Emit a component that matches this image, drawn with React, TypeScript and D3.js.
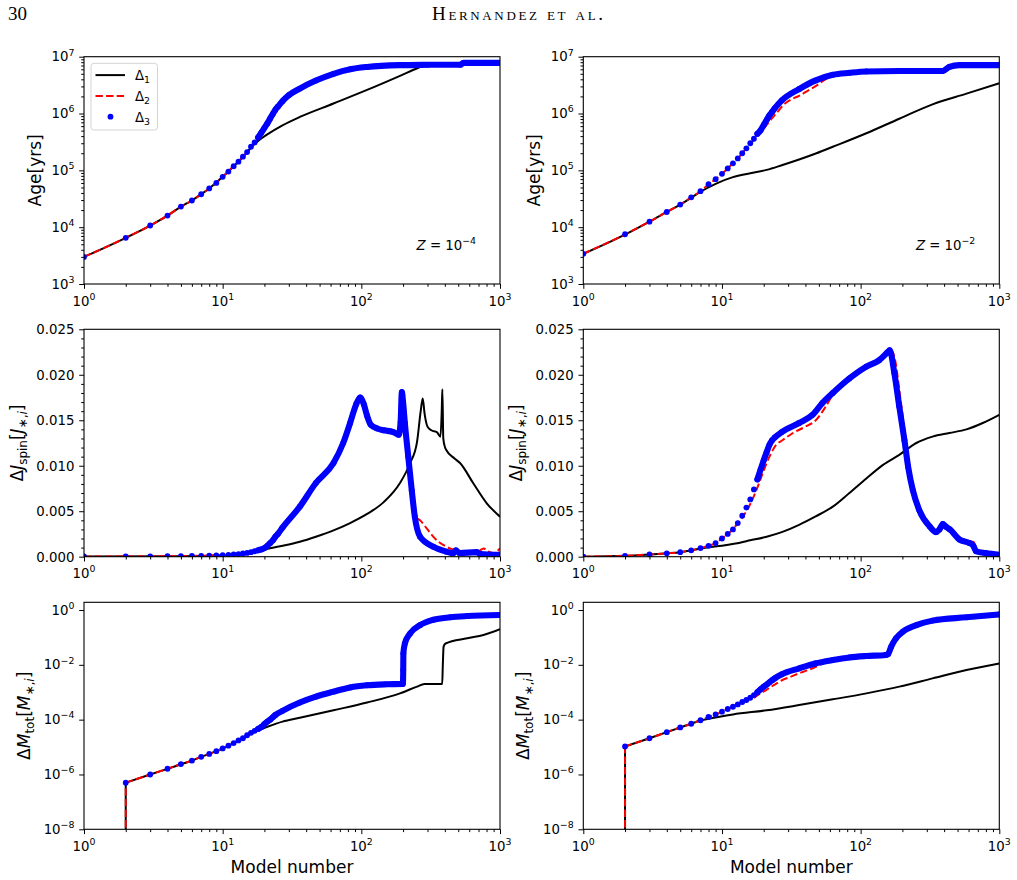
import React, { useRef, useEffect } from "react";
import * as d3 from "d3";

type Pt = [number, number];

// ---- ticks ----
const modelTicks = [1, 10, 100, 1000];
const ageTicks = [1e3, 1e4, 1e5, 1e6, 1e7];
const spinTicks = [0, 0.005, 0.01, 0.015, 0.02, 0.025];
const massTicks = [1e-8, 1e-6, 1e-4, 1e-2, 1];
const seriesLabels = ["1", "2", "3"];
const zLabels = ["\u22124", "\u22122"];

// ---- Age [yrs], Z = 1e-4 ----
const ageLowZDelta1: Pt[] = [
  [1, 3.0e3], [2, 6.5e3], [3, 1.07e4], [4, 1.6e4], [5, 2.3e4], [6, 2.95e4], [7, 3.8e4], [8, 4.8e4],
  [10, 7.7e4], [12, 1.18e5], [14, 1.72e5], [16, 2.5e5], [18, 3.3e5], [21, 4.3e5], [27, 6.2e5],
  [36, 8.7e5], [63, 1.5e6], [110, 2.6e6], [190, 4.6e6], [258, 6.4e6], [290, 7.1e6], [520, 7.2e6],
  [545, 7.7e6], [1000, 7.7e6],
];
const ageLowZDelta3: Pt[] = [
  [1, 3.0e3], [2, 6.5e3], [3, 1.07e4], [4, 1.6e4], [5, 2.3e4], [6, 2.95e4], [7, 3.8e4], [8, 4.8e4],
  [9, 6.0e4], [10, 7.7e4], [11, 9.5e4], [12, 1.18e5], [13, 1.42e5], [14, 1.74e5], [15, 2.1e5],
  [16, 2.6e5], [17, 3.1e5], [18, 3.8e5], [19, 4.6e5], [20, 5.6e5], [21, 6.7e5], [22, 8.2e5],
  [23, 9.8e5], [24, 1.17e6], [25, 1.32e6], [27, 1.65e6], [30, 2.1e6], [36, 2.75e6], [47, 3.8e6],
  [63, 5.0e6], [83, 6.0e6], [110, 6.6e6], [190, 7.1e6], [300, 7.2e6], [520, 7.25e6], [545, 7.8e6],
  [1000, 7.8e6],
];
const ageLowZDelta2: Pt[] = ageLowZDelta3;

// ---- Age [yrs], Z = 1e-2 ----
const ageHighZDelta1: Pt[] = [
  [1, 3.4e3], [2, 7.4e3], [3, 1.25e4], [4, 1.85e4], [5, 2.5e4], [6, 3.3e4], [7, 4.2e4], [9, 5.8e4],
  [12, 7.6e4], [16, 8.9e4], [21, 1.02e5], [27, 1.23e5], [36, 1.55e5], [48, 2.0e5], [63, 2.6e5],
  [110, 4.5e5], [190, 8.1e5], [330, 1.45e6], [580, 2.24e6], [1000, 3.4e6],
];
const ageHighZDelta3: Pt[] = [
  [1, 3.4e3], [2, 7.5e3], [3, 1.25e4], [4, 1.85e4], [5, 2.5e4], [6, 3.35e4], [7, 4.3e4], [8, 5.7e4],
  [9, 7.0e4], [10, 8.7e4], [11, 1.08e5], [12, 1.33e5], [13, 1.62e5], [14, 2.0e5], [15, 2.44e5],
  [16, 3.0e5], [17, 3.6e5], [18, 4.4e5], [19, 5.1e5], [20, 6.3e5], [21, 7.7e5], [22, 9.3e5],
  [23, 1.07e6], [24, 1.23e6], [27, 1.7e6], [36, 2.7e6], [47, 3.8e6], [63, 4.8e6], [83, 5.2e6],
  [110, 5.5e6], [190, 5.6e6], [390, 5.6e6], [436, 6.6e6], [515, 7.1e6], [1000, 7.1e6],
];
const ageHighZDelta2: Pt[] = [
  ...ageHighZDelta3.filter((d) => d[0] <= 15),
  [16, 2.9e5], [18, 4.0e5], [20, 5.4e5], [22, 7.3e5], [25, 1.05e6], [28, 1.45e6], [32, 1.8e6],
  [36, 2.05e6], [42, 2.55e6], [48, 3.1e6], [55, 3.9e6], [60, 4.4e6],
  ...ageHighZDelta3.filter((d) => d[0] >= 63),
];

// ---- ΔJ_spin, Z = 1e-4 ----
const spinLowZDelta1: Pt[] = [
  [1, 0.00002], [5, 0.00006], [10, 0.00017], [15, 0.00042], [20, 0.0008], [27, 0.0012],
  [36, 0.00165], [47, 0.0022], [63, 0.0029], [83, 0.0037], [110, 0.0047], [145, 0.006],
  [190, 0.0081], [225, 0.0103], [252, 0.0126], [268, 0.016], [277, 0.0174], [286, 0.0157],
  [300, 0.0143], [320, 0.0139], [350, 0.0137], [372, 0.0132], [380, 0.016], [384, 0.0184],
  [390, 0.013], [400, 0.0121], [411, 0.0117], [470, 0.0108], [515, 0.0103], [640, 0.0081],
  [800, 0.0059], [1000, 0.0044],
];
const spinLowZDelta3: Pt[] = [
  [1, 0.00002], [2, 0.00003], [3, 0.00004], [4, 0.00005], [5, 0.00006], [6, 0.00008], [7, 0.0001],
  [8, 0.00012], [9, 0.00014], [10, 0.00017], [11, 0.0002], [12, 0.00024], [13, 0.00029],
  [14, 0.00035], [15, 0.00042], [16, 0.0005], [17, 0.0006], [18, 0.0007], [19, 0.0008],
  [20, 0.00095], [21, 0.0012], [22, 0.0015], [23, 0.0018], [24, 0.0022], [25, 0.0025],
  [27, 0.0032], [36, 0.0055], [47, 0.0081], [63, 0.0103], [74, 0.0125], [83, 0.0147],
  [92, 0.0168], [98, 0.0175], [104, 0.0168], [110, 0.0155], [117, 0.0145], [130, 0.0141],
  [145, 0.0139], [170, 0.0137], [186, 0.0134], [192, 0.0148], [196, 0.0181], [200, 0.017],
  [206, 0.0147], [218, 0.011], [231, 0.0073], [243, 0.0044], [265, 0.0022], [330, 0.0011],
  [410, 0.00055], [460, 0.00037], [480, 0.0007], [510, 0.0004], [680, 0.0005], [720, 0.0003],
  [1000, 0.0002],
];
const spinLowZDelta2: Pt[] = [
  ...spinLowZDelta3.filter((d) => d[0] <= 243),
  [265, 0.004], [300, 0.003], [330, 0.0022], [410, 0.0011], [480, 0.0007], [577, 0.00055],
  [700, 0.0006], [760, 0.0009], [820, 0.0006], [900, 0.0004], [1000, 0.0009],
];

// ---- ΔJ_spin, Z = 1e-2 ----
const spinHighZDelta1: Pt[] = [
  [1, 0], [2, 0.0001], [3, 0.00025], [4, 0.00037], [5, 0.0005], [6, 0.0007], [7, 0.0009],
  [8, 0.00103], [10, 0.0012], [12.5, 0.00145], [16, 0.0018], [21, 0.0022], [27, 0.0027],
  [36, 0.0035], [47, 0.0044], [63, 0.0055], [83, 0.007], [110, 0.0086], [145, 0.0101],
  [190, 0.0112], [252, 0.0125], [330, 0.0132], [436, 0.0136], [580, 0.014], [760, 0.0147],
  [1000, 0.0156],
];
const spinHighZDelta3: Pt[] = [
  [1, 0], [2, 0.0001], [3, 0.00025], [4, 0.00037], [5, 0.0005], [6, 0.0007], [7, 0.00095],
  [8, 0.0012], [9, 0.0015], [10, 0.002], [11, 0.0025], [12, 0.003], [13, 0.0037], [14, 0.0045],
  [15, 0.0054], [16, 0.0063], [17, 0.0074], [18, 0.0085], [19, 0.0096], [20, 0.0106],
  [21, 0.0115], [22, 0.0123], [23, 0.0128], [24, 0.0131], [27, 0.0137], [36, 0.0147],
  [45, 0.0156], [53, 0.0169], [63, 0.018], [83, 0.0196], [110, 0.0209], [136, 0.0216],
  [157, 0.0225], [162, 0.0227], [175, 0.0202], [190, 0.0165], [207, 0.0128], [220, 0.0099],
  [238, 0.0073], [265, 0.0051], [316, 0.0033], [350, 0.0027], [370, 0.003], [392, 0.0036],
  [412, 0.0033], [440, 0.003], [515, 0.0019], [610, 0.0015], [650, 0.0012], [680, 0.0006],
  [800, 0.0004], [1000, 0.0002],
];
const spinHighZDelta2: Pt[] = [
  ...spinHighZDelta3.filter((d) => d[0] <= 13),
  [14, 0.0043], [15, 0.005], [16, 0.0058], [17.7, 0.0073], [19.7, 0.0092], [22, 0.011],
  [24.6, 0.0123], [27.3, 0.0128], [32.5, 0.0136], [40, 0.0143], [47.5, 0.015], [56, 0.0165],
  [66, 0.0183], [83, 0.0197], [110, 0.0208], [136, 0.0216], [157, 0.0224], [166, 0.0227],
  [178, 0.0215], [192, 0.0178], [208, 0.0137], [221, 0.0104], [240, 0.0076], [265, 0.0053],
  [316, 0.0034], [350, 0.0028], [392, 0.0037], [436, 0.0031], [515, 0.0021], [610, 0.0017],
  [655, 0.0016], [685, 0.0007], [1000, 0.0003],
];

// ---- ΔM_tot, Z = 1e-4 ----
const massLowZDelta1: Pt[] = [
  [1, 0], [2, 5e-7], [3, 1.0e-6], [4, 1.6e-6], [5, 2.35e-6], [6, 3.2e-6], [7, 4.4e-6], [8, 5.6e-6],
  [9, 7.1e-6], [10, 8.9e-6], [12, 1.4e-5], [15, 2.65e-5], [17, 3.6e-5], [21, 5.5e-5],
  [27, 8.5e-5], [36, 1.17e-4], [63, 2.2e-4], [110, 4.2e-4], [190, 9.1e-4], [252, 1.6e-3],
  [285, 2.0e-3], [383, 2.0e-3], [387, 1.0e-2], [392, 4.6e-2], [405, 6.0e-2], [580, 9.3e-2],
  [760, 1.23e-1], [1000, 2.0e-1],
];
const massLowZDelta3: Pt[] = [
  [1, 0], [2, 5e-7], [3, 1.0e-6], [4, 1.62e-6], [5, 2.4e-6], [6, 3.2e-6], [7, 4.4e-6], [8, 5.6e-6],
  [9, 7.1e-6], [10, 8.9e-6], [11, 1.12e-5], [12, 1.4e-5], [13, 1.74e-5], [14, 2.1e-5],
  [15, 2.7e-5], [16, 3.3e-5], [17, 3.9e-5], [18, 4.6e-5], [19, 5.4e-5], [20, 6.9e-5],
  [21, 8.5e-5], [22, 1.0e-4], [23, 1.23e-4], [24, 1.48e-4], [27, 2.1e-4], [36, 4.2e-4],
  [47, 6.9e-4], [63, 1.05e-3], [83, 1.5e-3], [110, 1.8e-3], [150, 1.95e-3], [199, 2.0e-3],
  [200, 2.8e-3], [200.5, 6.5e-3], [201, 2.6e-2], [206, 6.0e-2], [225, 0.14], [265, 0.28],
  [330, 0.44], [436, 0.54], [580, 0.6], [1000, 0.66],
];
const massLowZDelta2: Pt[] = massLowZDelta3;

// ---- ΔM_tot, Z = 1e-2 ----
const massHighZDelta1: Pt[] = [
  [1, 0], [2, 1.05e-5], [3, 2.1e-5], [4, 3.5e-5], [5, 5.2e-5], [6, 7.1e-5], [7, 9.3e-5],
  [9, 1.2e-4], [12, 1.55e-4], [21, 2.2e-4], [36, 3.4e-4], [63, 5.5e-4], [110, 9.1e-4],
  [190, 1.6e-3], [330, 3.2e-3], [580, 6.5e-3], [1000, 1.12e-2],
];
const massHighZDelta3: Pt[] = [
  [1, 0], [2, 1.05e-5], [3, 2.1e-5], [4, 3.5e-5], [5, 5.2e-5], [6, 7.1e-5], [7, 9.5e-5],
  [8, 1.26e-4], [9, 1.55e-4], [10, 1.95e-4], [11, 2.45e-4], [12, 2.95e-4], [13, 3.6e-4],
  [14, 4.4e-4], [15, 5.2e-4], [16, 6.3e-4], [17, 7.9e-4], [18, 1.0e-3], [19, 1.29e-3],
  [20, 1.6e-3], [21, 1.9e-3], [22, 2.3e-3], [23, 2.75e-3], [24, 3.2e-3], [27, 4.5e-3],
  [36, 7.4e-3], [47, 1.12e-2], [63, 1.5e-2], [83, 1.86e-2], [110, 2.1e-2], [152, 2.3e-2],
  [158, 2.5e-2], [166, 4.6e-2], [180, 9.3e-2], [201, 0.16], [252, 0.28], [330, 0.41],
  [580, 0.54], [1000, 0.69],
];
const massHighZDelta2: Pt[] = [
  ...massHighZDelta3.filter((d) => d[0] <= 15),
  [16.7, 6.0e-4], [18.5, 8.5e-4], [20.8, 1.2e-3], [24, 1.9e-3], [27.3, 2.8e-3], [31, 3.6e-3],
  [36, 4.9e-3], [42, 6.5e-3], [47.5, 8.5e-3], [53, 1.1e-2], [59, 1.4e-2],
  ...massHighZDelta3.filter((d) => d[0] >= 63),
];

// ---- layout ----
const W = 1017;
const H = 880;
const FONT = "DejaVu Sans, sans-serif";
const TICK_FS = 13.3;
const SUP_FS = 9.4;
const LABEL_FS = 17;
const PLOT_W = 416;
const colLeft = [84, 583.3];
const rowSpan: [number, number][] = [[56.7, 284], [329.3, 556.7], [602.3, 829.3]];
const DOT_R = 2.9;

type Kind = "age" | "spin" | "mass";

interface Piece { t: string; it?: boolean; sub?: boolean; sup?: boolean }

const panels = [
  { row: 0, col: 0, kind: "age" as Kind, d1: ageLowZDelta1, d2: ageLowZDelta2, d3: ageLowZDelta3, z: zLabels[0], legend: true },
  { row: 0, col: 1, kind: "age" as Kind, d1: ageHighZDelta1, d2: ageHighZDelta2, d3: ageHighZDelta3, z: zLabels[1], legend: false },
  { row: 1, col: 0, kind: "spin" as Kind, d1: spinLowZDelta1, d2: spinLowZDelta2, d3: spinLowZDelta3, z: null, legend: false },
  { row: 1, col: 1, kind: "spin" as Kind, d1: spinHighZDelta1, d2: spinHighZDelta2, d3: spinHighZDelta3, z: null, legend: false },
  { row: 2, col: 0, kind: "mass" as Kind, d1: massLowZDelta1, d2: massLowZDelta2, d3: massLowZDelta3, z: null, legend: false },
  { row: 2, col: 1, kind: "mass" as Kind, d1: massHighZDelta1, d2: massHighZDelta2, d3: massHighZDelta3, z: null, legend: false },
];

const yLabels: Record<Kind, Piece[]> = {
  age: [{ t: "Age[yrs]" }],
  spin: [
    { t: "\u0394" }, { t: "J", it: true }, { t: "spin", sub: true }, { t: "[" }, { t: "J", it: true },
    { t: "\u2217,", sub: true }, { t: "i", sub: true, it: true }, { t: "]" },
  ],
  mass: [
    { t: "\u0394" }, { t: "M", it: true }, { t: "tot", sub: true }, { t: "[" }, { t: "M", it: true },
    { t: "\u2217,", sub: true }, { t: "i", sub: true, it: true }, { t: "]" },
  ],
};
// distance from the plot's left edge to the rotated label baseline
const yLabelGap: Record<Kind, number> = { age: 43.5, spin: 61.5, mass: 54.5 };

function appendPieces(text: any, pieces: Piece[], base: number, small: number, subShift: number, supShift: number) {
  let shift = 0;
  pieces.forEach((p) => {
    const target = p.sub ? subShift : p.sup ? -supShift : 0;
    const ts = text.append("tspan").text(p.t).attr("font-size", p.sub || p.sup ? small : base);
    if (target !== shift) ts.attr("dy", target - shift);
    if (p.it) ts.attr("font-style", "italic");
    shift = target;
  });
}

function powerPieces(v: number): Piece[] {
  const e = Math.round(Math.log10(v));
  return [{ t: "10" }, { t: e < 0 ? "\u2212" + Math.abs(e) : String(e), sup: true }];
}

function drawPanel(root: any, p: (typeof panels)[number], idx: number) {
  const left = colLeft[p.col];
  const right = left + PLOT_W;
  const [top, bottom] = rowSpan[p.row];
  const logY = p.kind !== "spin";

  const x = d3.scaleLog().domain([1, 1000]).range([left, right]);
  const y: any =
    p.kind === "age"
      ? d3.scaleLog().domain([1e3, 1e7]).range([bottom, top])
      : p.kind === "spin"
      ? d3.scaleLinear().domain([0, 0.025]).range([bottom, top])
      : d3.scaleLog().domain([1e-8, 1.91]).range([bottom, top]);

  const g = root.append("g");
  const clipId = `plot-clip-${idx}`;
  g.append("clipPath").attr("id", clipId).append("rect")
    .attr("x", left).attr("y", top).attr("width", right - left).attr("height", bottom - top);

  const line = d3.line<Pt>().x((d) => x(d[0])).y((d) => y(d[1])).curve(d3.curveMonotoneX);
  // on a log axis a zero value drops straight down out of the frame
  const pathOf = (pts: Pt[]) => {
    if (logY && pts[0][1] <= 0) {
      const nx = x(pts[1][0]);
      return `M${nx},${bottom + 30}L${nx},${y(pts[1][1])}` + (line(pts.slice(1)) ?? "");
    }
    return line(pts) ?? "";
  };

  const plot = g.append("g").attr("clip-path", `url(#${clipId})`);
  plot.append("path").attr("d", pathOf(p.d1))
    .attr("fill", "none").attr("stroke", "#000").attr("stroke-width", 2);
  plot.append("path").attr("d", pathOf(p.d2))
    .attr("fill", "none").attr("stroke", "#ff0000").attr("stroke-width", 2)
    .attr("stroke-dasharray", "7.4,3.2");

  // dense models merge into a solid band of markers
  const dense = p.d3.filter((d) => d[0] >= 18);
  plot.append("path").attr("d", line(dense))
    .attr("fill", "none").attr("stroke", "#0000ff").attr("stroke-width", DOT_R * 2.1)
    .attr("stroke-linecap", "round").attr("stroke-linejoin", "round");
  plot.selectAll("circle.dot")
    .data(p.d3.filter((d) => !logY || d[1] > 0))
    .join("circle")
    .attr("class", "dot")
    .attr("cx", (d: Pt) => x(d[0]))
    .attr("cy", (d: Pt) => y(d[1]))
    .attr("r", DOT_R)
    .attr("fill", "#0000ff");

  // frame
  g.append("rect").attr("x", left).attr("y", top).attr("width", right - left).attr("height", bottom - top)
    .attr("fill", "none").attr("stroke", "#000").attr("stroke-width", 1.1);

  // x axis
  const xMinor = d3.range(0, 3).flatMap((e) => d3.range(2, 10).map((k) => k * 10 ** e));
  const xMajorAxis = g.append("g").attr("transform", `translate(0,${bottom})`)
    .call(d3.axisBottom(x).tickValues(modelTicks).tickSize(4.8).tickSizeOuter(0).tickFormat(() => ""));
  xMajorAxis.select(".domain").remove();
  const xMinorAxis = g.append("g").attr("transform", `translate(0,${bottom})`)
    .call(d3.axisBottom(x).tickValues(xMinor).tickSize(2.8).tickSizeOuter(0).tickFormat(() => ""));
  xMinorAxis.select(".domain").remove();

  modelTicks.forEach((t) => {
    const txt = g.append("text").attr("x", x(t)).attr("y", bottom + 21.5)
      .attr("text-anchor", "middle").attr("font-family", FONT).attr("fill", "#000");
    appendPieces(txt, powerPieces(t), TICK_FS, SUP_FS, 0, 5.8);
  });

  // y axis
  const yTicks = p.kind === "age" ? ageTicks : p.kind === "spin" ? spinTicks : massTicks;
  const yMinor =
    p.kind === "age"
      ? d3.range(3, 7).flatMap((e) => d3.range(2, 10).map((k) => k * 10 ** e))
      : p.kind === "spin"
      ? d3.range(1, 25).filter((k) => k % 5 !== 0).map((k) => k * 0.001)
      : [];
  const yMajorAxis = g.append("g").attr("transform", `translate(${left},0)`)
    .call(d3.axisLeft(y).tickValues(yTicks).tickSize(4.8).tickSizeOuter(0).tickFormat(() => ""));
  yMajorAxis.select(".domain").remove();
  if (yMinor.length) {
    const yMinorAxis = g.append("g").attr("transform", `translate(${left},0)`)
      .call(d3.axisLeft(y).tickValues(yMinor).tickSize(2.8).tickSizeOuter(0).tickFormat(() => ""));
    yMinorAxis.select(".domain").remove();
  }

  const fmt = d3.format(".3f");
  yTicks.forEach((t) => {
    const txt = g.append("text").attr("x", left - 9.6).attr("y", y(t) + (logY ? 4.6 : 4.8))
      .attr("text-anchor", "end").attr("font-family", FONT).attr("fill", "#000");
    if (logY) appendPieces(txt, powerPieces(t), TICK_FS, SUP_FS, 0, 5.8);
    else txt.attr("font-size", TICK_FS).text(fmt(t));
  });

  // axis titles
  const yl = g.append("text")
    .attr("transform", `translate(${left - yLabelGap[p.kind]},${(top + bottom) / 2}) rotate(-90)`)
    .attr("text-anchor", "middle").attr("font-family", FONT).attr("fill", "#000");
  appendPieces(yl, yLabels[p.kind], LABEL_FS, 12, 4, 0);

  if (p.row === 2) {
    g.append("text").attr("x", (left + right) / 2).attr("y", 873)
      .attr("text-anchor", "middle").attr("font-family", FONT).attr("font-size", LABEL_FS)
      .attr("fill", "#000").text("Model number");
  }

  // metallicity tag
  if (p.z) {
    const zt = g.append("text").attr("x", right - 83.4).attr("y", bottom - 34)
      .attr("font-family", FONT).attr("fill", "#000");
    appendPieces(zt, [{ t: "Z", it: true }, { t: " = 10" }, { t: p.z, sup: true }], TICK_FS, SUP_FS, 0, 5.8);
  }

  if (p.legend) {
    const lx = left + 7;
    const ly = top + 6.6;
    const lg = g.append("g");
    lg.append("rect").attr("x", lx).attr("y", ly).attr("width", 66.5).attr("height", 66.7).attr("rx", 3)
      .attr("fill", "#fff").attr("fill-opacity", 0.8).attr("stroke", "#d4d4d4").attr("stroke-width", 1);
    seriesLabels.forEach((s, i) => {
      const ry = ly + 11.8 + i * 20.8;
      if (i === 0) {
        lg.append("line").attr("x1", lx + 4.5).attr("x2", lx + 34).attr("y1", ry).attr("y2", ry)
          .attr("stroke", "#000").attr("stroke-width", 2);
      } else if (i === 1) {
        lg.append("line").attr("x1", lx + 4.5).attr("x2", lx + 34).attr("y1", ry).attr("y2", ry)
          .attr("stroke", "#ff0000").attr("stroke-width", 2).attr("stroke-dasharray", "7.4,3.2");
      } else {
        lg.append("circle").attr("cx", lx + 19.5).attr("cy", ry).attr("r", DOT_R).attr("fill", "#0000ff");
      }
      const lt = lg.append("text").attr("x", lx + 44).attr("y", ry + 5).attr("font-family", FONT).attr("fill", "#000");
      appendPieces(lt, [{ t: "\u0394" }, { t: s, sub: true }], TICK_FS, SUP_FS, 3, 0);
    });
  }
}

export default function App() {
  const svgRef = useRef<SVGSVGElement>(null);

  useEffect(() => {
    const svg = d3.select(svgRef.current);
    svg.selectAll("*").remove();
    svg.append("rect").attr("width", W).attr("height", H).attr("fill", "#fff");

    // running head
    svg.append("text").attr("x", 8).attr("y", 20).attr("font-family", "Liberation Serif, serif")
      .attr("font-size", 19).attr("fill", "#000").text("30");
    svg.append("text").attr("x", 517.5).attr("y", 20).attr("text-anchor", "middle")
      .attr("font-family", "Liberation Serif, serif").attr("font-size", 19)
      .attr("font-variant", "small-caps").style("font-variant", "small-caps")
      .attr("textLength", 171).attr("lengthAdjust", "spacing")
      .attr("fill", "#000").text("Hernandez et al.");

    panels.forEach((p, i) => drawPanel(svg, p, i));
  }, []);

  return (
    <svg
      ref={svgRef}
      width={W}
      height={H}
      style={{ position: "absolute", left: 0, top: 0, display: "block" }}
    />
  );
}
